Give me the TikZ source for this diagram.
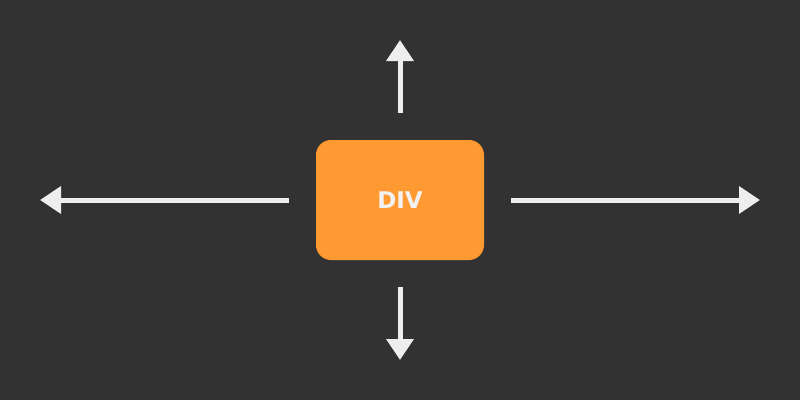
\documentclass[tikz,border=0pt]{standalone}
\usepackage{fontspec}
\setmainfont{DejaVu Sans}
\usetikzlibrary{arrows.meta}
\definecolor{bg}{HTML}{323232}
\definecolor{boxc}{HTML}{FF9A33}
\definecolor{linec}{HTML}{EEEEEE}
\definecolor{txtc}{HTML}{F2F2F2}
\tikzset{
  divbox/.style={fill=boxc, rounded corners=15bp, minimum width=168bp, minimum height=120bp, inner sep=0pt, text=txtc, font=\fontsize{23bp}{27bp}\selectfont\bfseries},
  conn/.style={draw=linec, line width=5bp, -{Triangle[length=21bp,width=26.5bp]}, fill=linec}
}
\begin{document}
\begin{tikzpicture}[x=1bp,y=1bp]
\fill[bg] (0,0) rectangle (800,400);
\useasboundingbox (0,0) rectangle (800,400);
\node[divbox] (div) at (400,200) {DIV};
\coordinate (ls) at (289,200);
\coordinate (le) at (40,200);
\coordinate (rs) at (511,200);
\coordinate (re) at (760,200);
\coordinate (us) at (400,287);
\coordinate (ue) at (400,360);
\coordinate (ds) at (400,113);
\coordinate (de) at (400,40);
\draw[conn] (ls) -- (le);
\draw[conn] (rs) -- (re);
\draw[conn] (us) -- (ue);
\draw[conn] (ds) -- (de);
\end{tikzpicture}
\end{document}
